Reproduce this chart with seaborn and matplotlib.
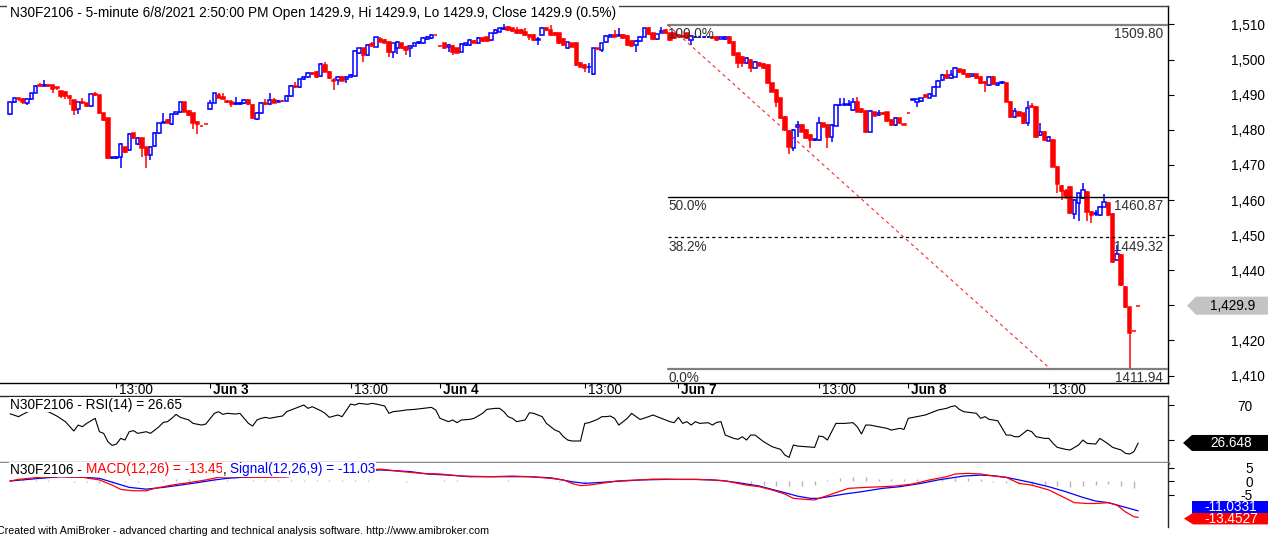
import numpy as np
import pandas as pd
import matplotlib
matplotlib.use("Agg")
import matplotlib.pyplot as plt
import matplotlib.transforms as mtransforms
from matplotlib.patches import Polygon
import seaborn as sns

# ---------------- data (5-minute bars) ----------------
jun02_o = [1484.5,1487.8,1489.0,1488.7,1487.5,1488.7,1490.6,1492.8,1492.6,1492.9,1492.7,1492.2,1491.0,1490.8,1489.6,1488.5,1485.9,1487.8,1487.5,1486.8,1490.1,1489.9,1484.7,1483.3,1471.9,1472.0,1472.2,1475.0,1474.2,1479.0,1476.0,1477.6,1475.0,1472.8,1475.4,1479.0,1482.0,1482.8,1481.6,1484.4,1485.0,1487.8,1485.4,1484.7,1482.3,1481.0,1481.6]
jun02_h = [1488.0,1489.2,1489.2,1489.0,1489.0,1490.6,1492.8,1493.2,1494.2,1493.1,1492.8,1492.3,1491.1,1491.0,1489.8,1488.6,1488.0,1489.0,1487.6,1490.3,1490.9,1490.0,1484.8,1483.4,1472.3,1472.4,1476.2,1475.2,1479.0,1479.1,1478.0,1477.8,1475.1,1475.4,1479.4,1482.0,1484.7,1483.0,1484.6,1485.2,1488.0,1487.9,1485.5,1484.8,1482.4,1481.0,1481.6]
jun02_l = [1484.2,1487.5,1488.3,1487.3,1487.2,1488.5,1490.4,1492.4,1492.5,1492.3,1490.6,1491.3,1489.2,1488.7,1487.1,1484.2,1484.4,1487.3,1486.6,1486.6,1489.6,1484.5,1482.6,1471.7,1471.7,1471.8,1469.0,1473.5,1474.0,1477.4,1475.8,1472.2,1469.0,1471.4,1475.2,1478.8,1481.8,1481.8,1481.4,1484.2,1484.8,1485.0,1484.0,1480.1,1478.8,1481.0,1481.6]
jun02_c = [1487.8,1489.0,1488.7,1488.0,1488.7,1490.4,1492.6,1492.6,1492.9,1492.6,1491.6,1491.8,1489.6,1489.6,1489.2,1485.6,1487.8,1487.5,1486.8,1490.1,1489.8,1484.7,1482.8,1471.9,1472.2,1472.2,1476.0,1473.8,1478.8,1477.6,1477.8,1474.7,1472.8,1475.2,1479.2,1481.8,1482.3,1482.0,1484.4,1485.0,1487.8,1485.2,1484.2,1481.8,1481.6,1481.0,1481.6]

jun03_o = [1485.9,1487.7,1489.9,1489.4,1488.3,1488.0,1487.3,1487.4,1487.5,1488.5,1487.1,1483.0,1484.8,1487.7,1487.3,1488.5,1488.0,1488.3,1488.3,1489.6,1492.5,1492.2,1494.4,1495.0,1496.3,1496.5,1495.3,1498.5,1496.6,1494.2,1494.2,1495.1,1494.4,1495.1,1495.3,1501.8,1503.2,1501.3,1504.4,1503.7,1505.8,1505.5,1505.0,1502.3,1503.2,1504.6,1503.7,1503.2,1504.0,1504.6,1504.6,1505.9,1506.1,1507.0]
jun03_h = [1488.5,1490.6,1490.6,1490.5,1488.5,1488.6,1489.3,1487.8,1488.8,1488.7,1487.3,1485.0,1487.9,1488.9,1490.6,1489.0,1488.5,1488.6,1489.8,1492.7,1493.6,1494.6,1495.3,1496.5,1496.6,1496.7,1498.9,1499.2,1496.8,1494.7,1495.2,1495.3,1495.3,1495.8,1502.7,1503.4,1503.4,1504.4,1505.1,1506.5,1506.5,1506.0,1505.3,1504.8,1505.3,1504.8,1503.9,1504.2,1504.8,1505.3,1506.3,1506.7,1507.2,1507.0]
jun03_l = [1485.7,1487.5,1489.0,1488.7,1487.5,1486.6,1487.0,1487.2,1487.3,1487.2,1483.0,1482.8,1484.6,1487.2,1487.1,1487.5,1487.8,1487.9,1488.1,1489.4,1492.0,1492.0,1494.2,1494.8,1495.5,1494.7,1495.1,1496.4,1494.5,1491.3,1492.8,1493.8,1493.2,1494.9,1495.1,1501.6,1499.3,1501.1,1503.8,1503.5,1504.9,1504.6,1500.8,1500.4,1501.6,1503.0,1501.3,1500.8,1503.8,1504.4,1504.4,1505.7,1505.9,1507.0]
jun03_c = [1487.7,1490.4,1489.2,1488.9,1487.8,1487.3,1487.6,1487.5,1488.6,1487.4,1483.3,1484.8,1487.7,1487.4,1488.5,1487.7,1488.3,1488.1,1489.6,1492.5,1492.2,1494.4,1495.1,1496.3,1495.8,1494.9,1498.7,1496.6,1494.7,1493.8,1495.0,1494.0,1495.1,1495.6,1502.5,1503.2,1501.3,1504.2,1504.0,1506.3,1505.1,1504.8,1502.3,1504.6,1505.1,1503.2,1502.7,1504.0,1504.6,1505.1,1506.1,1506.5,1507.0,1507.0]

jun04_o = [1504.0,1504.6,1503.7,1504.0,1503.2,1502.3,1504.2,1504.2,1505.4,1504.6,1506.1,1506.3,1505.6,1507.5,1508.0,1508.7,1509.4,1508.9,1508.4,1508.4,1508.0,1507.0,1507.0,1505.6,1507.0,1509.1,1508.4,1507.7,1507.5,1506.0,1503.2,1504.6,1504.6,1499.0,1498.5,1497.8,1495.8,1503.2,1502.7,1504.9,1506.5,1507.0,1506.8,1507.0,1506.8,1505.3,1504.2,1505.3,1506.5,1509.1,1507.5,1505.9,1507.7,1508.4,1507.5,1507.5]
jun04_h = [1504.0,1504.8,1504.4,1504.2,1503.4,1504.6,1504.8,1505.8,1505.6,1506.3,1506.3,1506.5,1507.7,1508.6,1509.1,1510.2,1509.6,1509.1,1509.4,1508.6,1508.9,1507.2,1507.2,1506.3,1509.3,1509.3,1509.9,1507.9,1507.7,1506.2,1505.1,1504.8,1504.9,1499.2,1498.7,1499.0,1503.4,1503.4,1504.8,1507.0,1507.2,1508.4,1508.9,1507.2,1507.0,1505.5,1505.5,1506.7,1509.1,1509.3,1507.7,1507.4,1509.4,1508.6,1507.7,1507.7]
jun04_l = [1504.0,1503.0,1502.3,1501.3,1501.8,1502.1,1504.0,1504.0,1504.6,1504.4,1505.1,1505.1,1505.4,1507.3,1507.8,1508.5,1508.2,1508.0,1507.3,1507.3,1506.8,1505.6,1505.4,1504.2,1506.8,1508.2,1506.8,1506.8,1504.4,1504.0,1503.0,1503.5,1498.3,1497.8,1496.5,1496.1,1495.6,1502.8,1502.3,1504.7,1506.3,1506.3,1506.6,1505.9,1504.0,1503.8,1502.1,1505.1,1506.3,1507.0,1505.7,1505.7,1507.5,1507.3,1505.4,1505.9]
jun04_c = [1504.0,1503.2,1504.2,1502.3,1502.0,1504.4,1504.6,1505.6,1504.8,1506.1,1505.3,1505.3,1507.5,1508.4,1508.9,1509.1,1508.4,1508.2,1507.5,1507.5,1507.0,1506.5,1505.6,1506.0,1509.1,1508.4,1507.0,1507.0,1504.6,1504.2,1504.9,1503.7,1498.5,1498.0,1497.5,1498.0,1503.2,1503.0,1504.6,1506.8,1507.0,1506.5,1507.0,1506.1,1504.2,1504.0,1505.3,1506.5,1508.9,1507.2,1505.9,1507.2,1508.2,1507.5,1505.6,1506.1]

jun07_o = [1507.0,1506.8,1507.5,1505.6,1506.3,1506.4,1506.4,1506.4,1506.5,1506.5,1506.0,1505.9,1506.5,1505.1,1501.8,1500.8,1499.0,1500.0,1497.7,1499.0,1498.7,1498.5,1493.2,1491.3,1489.0,1483.7,1479.7,1474.7,1480.9,1481.4,1480.0,1478.5,1477.0,1477.1,1481.8,1481.4,1478.0,1481.2,1487.0,1487.0,1487.1,1485.6,1488.0,1485.9,1485.4,1479.5,1485.0,1484.2,1484.8,1485.0,1482.8,1481.4,1483.3,1481.6]
jun07_h = [1507.2,1507.0,1507.7,1507.0,1506.7,1506.6,1506.6,1506.6,1506.7,1506.7,1506.5,1506.7,1506.7,1505.3,1502.0,1501.0,1500.6,1500.2,1499.6,1499.2,1498.9,1498.7,1493.4,1491.5,1489.2,1483.9,1479.9,1480.1,1482.5,1481.6,1480.2,1478.7,1477.5,1483.7,1482.0,1481.6,1481.6,1487.3,1489.2,1489.2,1488.4,1489.0,1489.4,1486.1,1485.6,1485.6,1485.2,1485.6,1485.0,1485.2,1483.0,1483.7,1483.5,1481.7]
jun07_l = [1506.5,1506.3,1505.9,1504.2,1506.1,1506.2,1506.2,1506.2,1505.9,1505.4,1505.8,1505.7,1504.4,1501.1,1497.5,1497.8,1498.8,1496.5,1497.5,1498.1,1497.3,1493.0,1490.7,1486.6,1483.1,1479.7,1473.0,1474.0,1478.0,1479.3,1477.4,1474.7,1476.8,1476.9,1480.7,1474.9,1476.4,1481.0,1486.8,1486.8,1486.9,1485.4,1485.0,1484.8,1479.1,1479.3,1483.8,1484.0,1484.3,1482.3,1481.2,1481.2,1481.6,1481.3]
jun07_c = [1506.8,1506.5,1506.1,1506.8,1506.5,1506.5,1506.5,1506.5,1506.1,1505.6,1506.3,1506.5,1504.6,1501.3,1499.0,1499.0,1500.4,1497.5,1499.4,1498.3,1497.5,1493.2,1490.9,1488.0,1483.3,1479.9,1475.2,1479.9,1481.4,1479.5,1477.6,1477.1,1477.3,1481.8,1480.9,1478.0,1481.4,1487.1,1487.2,1487.3,1487.4,1487.8,1485.2,1485.0,1479.3,1485.4,1484.0,1484.7,1484.5,1482.5,1481.4,1483.5,1481.8,1481.4]

jun08_o = [1484.7,1488.6,1488.0,1488.2,1489.9,1489.2,1489.7,1492.3,1494.2,1495.6,1494.7,1495.1,1497.2,1497.0,1496.0,1495.3,1495.8,1495.0,1493.7,1492.8,1495.1,1492.8,1493.2,1493.4,1488.0,1483.7,1485.2,1484.7,1481.8,1486.8,1486.6,1478.5,1479.5,1476.9,1477.1,1469.5,1464.0,1462.7,1463.8,1456.0,1459.1,1460.5,1462.4,1456.7,1455.9,1455.7,1458.1,1459.1,1456.0,1443.0,1444.3,1435.3,1429.4,1422.8,1429.9]
jun08_h = [1484.7,1488.7,1488.9,1489.2,1490.1,1490.4,1492.5,1494.1,1495.8,1497.0,1497.0,1497.9,1497.4,1497.2,1496.2,1496.0,1496.0,1495.2,1493.9,1495.3,1495.3,1493.6,1493.8,1493.6,1488.2,1486.1,1485.4,1484.9,1488.3,1487.5,1486.8,1481.8,1479.7,1478.1,1477.3,1469.7,1464.2,1463.0,1464.0,1460.2,1462.1,1464.8,1462.6,1456.9,1457.2,1458.3,1461.8,1459.3,1456.2,1447.2,1444.5,1435.5,1429.6,1422.8,1429.9]
jun08_l = [1484.7,1488.6,1486.5,1488.0,1489.2,1489.0,1489.5,1492.1,1494.0,1494.5,1494.5,1494.9,1496.3,1495.7,1494.9,1495.1,1494.5,1493.0,1490.9,1492.6,1492.8,1492.6,1493.0,1487.8,1483.5,1483.5,1483.8,1481.6,1481.0,1486.2,1477.8,1478.3,1476.7,1476.7,1469.3,1462.0,1460.0,1460.2,1456.0,1454.5,1454.0,1460.3,1454.0,1453.4,1455.5,1455.5,1457.9,1455.5,1442.0,1442.8,1435.6,1429.2,1411.94,1422.8,1429.9]
jun08_c = [1484.7,1488.7,1488.7,1489.0,1489.4,1490.2,1492.3,1493.9,1495.6,1494.7,1495.6,1497.7,1496.5,1495.9,1495.1,1495.8,1494.7,1493.2,1493.2,1495.1,1493.0,1493.4,1493.5,1488.0,1483.7,1485.4,1484.0,1481.8,1486.3,1486.4,1478.0,1479.5,1477.1,1477.9,1469.5,1464.6,1462.7,1461.0,1456.2,1460.0,1461.9,1462.9,1456.7,1455.7,1456.4,1458.1,1459.3,1455.7,1442.4,1444.6,1435.8,1429.4,1422.2,1422.8,1429.9]

# date axis (bar numbers where the label sits)
date_tick_bars = [25, 47, 80, 101, 135, 157, 190, 211, 244]
date_tick_labels = ["13:00", "Jun 3", "13:00", "Jun 4", "13:00", "Jun 7", "13:00", "Jun 8", "13:00"]
price_ticks = [1410, 1420, 1430, 1440, 1450, 1460, 1470, 1480, 1490, 1500, 1510]

# Fibonacci retracement drawn on the chart
fib_high, fib_low = 1509.80, 1411.94
fib_start_bar, fib_end_bar = 154.6, 244.3
fib_ratios = [1.0, 0.5, 0.382, 0.0]
fib_names = ["100.0%", "50.0%", "38.2%", "0.0%"]

# RSI(14)
rsi_bar = [0,2,3,5,7,9,11,13,15,16,17,18,20,21,22,23,24,25,26,27,28,29,30,32,33,35,36,37,38,39,40,42,43,45,46,48,49,50,51,53,54,56,57,58,59,60,61,63,64,65,67,69,70,71,73,74,75,77,78,80,81,82,84,85,86,88,89,90,92,93,95,97,99,100,101,103,104,105,106,108,109,111,112,114,115,116,117,118,119,121,122,123,125,126,128,129,130,131,132,134,135,136,138,139,140,141,142,143,145,146,148,150,151,153,155,156,157,158,159,160,161,162,164,165,166,167,168,170,171,172,173,174,175,177,179,181,182,183,184,185,187,189,190,191,192,194,196,198,199,200,201,202,204,206,207,209,210,211,213,215,216,217,218,220,221,222,223,224,226,227,228,229,230,231,232,234,235,236,237,239,240,241,243,244,245,246,248,249,251,252,253,255,256,258,259,261,262,263,264,265]
rsi_val = [60.0,56.7,59.3,64.3,63.1,62.4,57.4,51.0,40.3,47.1,45.2,49.0,54.8,39.5,37.6,28.1,23.9,25.4,31.9,30.0,39.5,40.7,37.6,39.5,37.6,45.2,50.2,51.0,54.8,59.3,55.9,52.9,49.0,47.1,48.3,60.5,62.4,59.3,60.5,59.7,60.5,49.0,46.0,52.9,54.8,55.9,54.8,56.7,57.4,62.4,66.2,70.0,66.2,68.1,63.5,60.5,55.9,58.6,56.7,71.1,70.0,71.9,70.8,71.9,71.1,68.9,60.5,62.4,63.5,64.3,65.0,66.2,67.3,64.3,54.8,51.0,52.9,49.8,52.9,53.6,54.8,60.5,65.0,66.2,66.2,62.4,56.7,54.8,51.0,52.9,61.2,60.5,56.7,49.0,41.4,39.5,33.8,30.0,28.9,28.9,49.0,49.8,53.6,56.7,56.7,57.4,54.8,47.1,54.8,60.5,53.5,56.7,58.6,54.8,51.0,49.8,55.9,49.0,51.0,47.1,51.0,49.0,49.8,47.1,50.2,51.0,35.7,31.9,30.8,33.8,30.0,35.7,35.7,28.1,22.4,19.3,12.9,10.2,24.3,23.1,22.4,21.6,34.6,33.8,30.0,49.0,49.0,49.8,45.2,36.9,47.1,47.1,45.2,43.3,41.4,43.3,42.2,54.8,56.7,58.6,60.5,62.4,64.3,66.2,68.1,69.2,65.0,62.4,61.2,60.5,54.8,56.7,53.6,52.9,52.1,35.7,35.7,33.8,33.8,41.4,39.5,33.8,31.9,31.9,26.2,21.6,19.3,18.6,24.3,30.0,26.2,25.4,31.9,25.4,21.6,18.6,14.8,14.0,16.7,26.65]

# MACD(12,26) and Signal(12,26,9)
macd_bar = [0,2,7,12,17,21,24,26,29,32,34,38,42,46,49,53,57,61,65,72,80,87,92,97,101,106,113,118,122,127,130,132,134,136,140,143,148,151,154,157,161,165,168,171,173,176,179,182,184,187,189,190,192,194,197,201,205,208,212,216,220,222,225,228,231,234,237,240,244,248,250,253,255,258,260,262,264,265]
macd_val = [0.0,0.6,1.4,1.6,1.4,0.4,-1.5,-3.1,-3.6,-3.6,-2.7,-1.5,-0.6,0.4,1.4,1.6,1.4,1.4,1.6,2.5,3.8,4.4,3.5,2.8,2.6,1.85,1.6,1.85,1.6,1.0,0.4,-0.9,-1.7,-1.5,-0.6,0.1,0.4,0.7,0.7,0.6,0.6,0.4,0.1,-0.9,-1.5,-2.1,-3.3,-4.8,-6.4,-6.8,-7.0,-6.4,-5.4,-4.3,-2.7,-2.35,-2.1,-1.85,-1.1,0.4,1.6,2.6,2.84,2.6,1.85,1.36,-0.86,-1.5,-3.3,-6.4,-8.0,-8.3,-8.3,-8.0,-8.9,-11.4,-13.2,-13.45]
signal_bar = [0,7,12,17,21,25,28,32,36,40,44,48,51,55,65,75,87,94,98,103,108,113,122,127,132,135,138,141,145,148,154,161,165,168,171,173,176,179,182,185,188,190,193,196,200,205,209,214,218,222,224,228,231,234,237,240,244,248,252,255,258,261,265]
signal_val = [0.0,1.0,1.6,1.4,1.0,-0.9,-2.35,-3.0,-2.35,-1.5,-0.6,0.4,1.0,1.4,1.6,2.8,4.1,3.5,2.6,2.2,1.6,1.6,1.6,1.2,-0.25,-0.86,-0.6,-0.25,0.1,0.4,0.6,0.6,0.4,0.0,-0.6,-1.1,-1.85,-3.1,-4.3,-5.6,-6.4,-6.4,-5.6,-4.8,-3.95,-2.7,-2.1,-0.86,0.4,1.36,1.85,2.2,1.97,1.36,0.4,-0.6,-2.1,-3.95,-6.05,-7.4,-8.0,-9.3,-11.03]
hist_bar = list(range(0, 265, 3))
hist_val = [0.2,0.3,0.3,0.2,0.1,-0.3,-0.5,-0.6,-0.6,-0.4,-0.2,0.2,0.5,0.6,0.6,0.5,0.4,0.2,0.1,0.3,0.3,0.3,0.4,0.4,0.3,0.3,0.3,0.3,0.3,0.1,-0.1,-0.2,-0.1,0.0,0.2,0.2,0.1,0.1,0.1,0.2,0.1,0.1,0.0,-0.3,-0.6,-0.6,-0.4,-0.2,0.0,0.1,0.1,0.1,0.1,0.1,0.1,0.1,0.0,-0.6,-1.0,-1.4,-1.8,-2.0,-2.0,-1.5,0.5,1.2,1.6,1.4,0.8,0.6,0.6,0.7,0.8,1.0,1.1,1.0,0.6,-0.2,-0.8,-1.2,-1.3,-1.5,-1.8,-2.2,-2.0,-1.4,-1.2,-2.0,-2.5]

title_text = "N30F2106 - 5-minute 6/8/2021 2:50:00 PM Open 1429.9, Hi 1429.9, Lo 1429.9, Close 1429.9 (0.5%)"
rsi_title = "N30F2106 - RSI(14) = 26.65"
footer = "Created with AmiBroker - advanced charting and technical analysis software. http://www.amibroker.com"
last_close, last_rsi, last_macd, last_signal = 1429.9, 26.648, -13.4527, -11.0331

# ---------------- styling ----------------
sns.set_theme(style="white")
plt.rcParams['font.family'] = ['Liberation Sans', 'DejaVu Sans']
plt.rcParams['axes.linewidth'] = 1.0

BLUE, RED = "#0000ff", "#ff0000"
W, H = 1270, 538
FS = 9.8


def px_rect(l, t, r, b):
    return [l / W, 1 - b / H, (r - l) / W, (b - t) / H]


df = pd.DataFrame({
    "open": jun02_o + jun03_o + jun04_o + jun07_o + jun08_o,
    "high": jun02_h + jun03_h + jun04_h + jun07_h + jun08_h,
    "low": jun02_l + jun03_l + jun04_l + jun07_l + jun08_l,
    "close": jun02_c + jun03_c + jun04_c + jun07_c + jun08_c,
})
df["bar"] = np.arange(len(df))
df["up"] = df["close"] > df["open"]
df["body_lo"] = df[["open", "close"]].min(axis=1)
df["body_h"] = (df["close"] - df["open"]).abs()

XL = (-2.35, 272.0)

fig = plt.figure(figsize=(W / 100, H / 100), dpi=100)
fig.patch.set_facecolor("white")

# ---------------- price panel ----------------
ax = fig.add_axes(px_rect(0, 6, 1168, 382.7))
up = df[df["up"]]
dn = df[~df["up"]]
ax.vlines(up["bar"], up["low"], up["high"], color=BLUE, lw=1.1, zorder=2)
ax.vlines(dn["bar"], dn["low"], dn["high"], color=RED, lw=1.1, zorder=2)
ax.bar(up["bar"], up["body_h"], bottom=up["body_lo"], width=0.8,
       facecolor="white", edgecolor=BLUE, linewidth=1.1, zorder=3)
ax.bar(dn["bar"], dn["body_h"], bottom=dn["body_lo"], width=0.8,
       facecolor=RED, edgecolor=RED, linewidth=1.1, zorder=3)

ax.set_xlim(*XL)
ax.set_ylim(1407.95, 1515.27)

# fibonacci
frac0 = (fib_start_bar - XL[0]) / (XL[1] - XL[0])
blend = mtransforms.blended_transform_factory(ax.transAxes, ax.transData)
for r, name in zip(fib_ratios, fib_names):
    lvl = fib_low + r * (fib_high - fib_low)
    if r in (1.0, 0.0):
        ax.axhline(lvl, xmin=frac0, xmax=1, color="#808080", lw=1.6, zorder=4)
    elif r == 0.5:
        ax.axhline(lvl, xmin=frac0, xmax=1, color="black", lw=1.0, zorder=4)
    else:
        ax.axhline(lvl, xmin=frac0, xmax=1, color="black", lw=0.9,
                   ls=(0, (2.5, 2.5)), zorder=4)
    ax.annotate(name, xy=(fib_start_bar, lvl), xytext=(0, -1.5),
                textcoords="offset points", ha="left", va="top",
                fontsize=FS, color="#303030", zorder=5)
    ax.annotate(f"{lvl:.2f}", xy=(0.996, lvl), xycoords=blend, xytext=(0, -1.5),
                textcoords="offset points", ha="right", va="top",
                fontsize=FS, color="#303030", zorder=5)
ax.plot([fib_start_bar, fib_end_bar], [fib_high, fib_low], color=RED,
        lw=0.8, ls=(0, (3, 3)), alpha=0.85, zorder=4)

ax.spines["left"].set_visible(False)
ax.spines["top"].set_color("#404040")
ax.spines["bottom"].set_color("black")
ax.spines["right"].set_color("black")
ax.yaxis.tick_right()
ax.set_yticks(price_ticks)
# the 1,430 label sits under the last-price flag in the reference
ax.set_yticklabels(["" if v == 1430 else f"{v:,.0f}" for v in price_ticks], ha="right")
ax.tick_params(axis="y", direction="out", length=4, width=0.8, pad=66,
               labelsize=FS, colors="black")
ax.set_xticks(date_tick_bars)
ax.set_xticklabels(date_tick_labels, ha="left")
ax.tick_params(axis="x", direction="out", length=3.5, width=0.8, pad=-3.5,
               labelsize=FS, colors="black", bottom=True)
shift = mtransforms.ScaledTranslation(3 / 100, 0, fig.dpi_scale_trans)
for lbl, txt in zip(ax.get_xticklabels(), date_tick_labels):
    lbl.set_transform(lbl.get_transform() + shift)
    if txt.startswith("Jun"):
        lbl.set_fontweight("bold")
ax.set_xlabel("")
ax.set_ylabel("")

# ---------------- RSI panel ----------------
axr = fig.add_axes(px_rect(0, 396, 1168, 462.7))
sns.lineplot(x=rsi_bar, y=rsi_val, ax=axr, color="black", linewidth=0.8,
             estimator=None, sort=False)
axr.set_xlim(*XL)
axr.set_ylim(4.1, 80.3)
axr.set_xticks([])
axr.spines["left"].set_visible(False)
axr.spines["bottom"].set_color("#8c8c8c")
axr.spines["bottom"].set_linewidth(2.5)
axr.yaxis.tick_right()
axr.set_yticks([30, 70])
axr.set_yticklabels(["30", "70"], ha="right")
axr.tick_params(axis="y", direction="out", length=4, width=0.8, pad=57,
                labelsize=FS, colors="black")

# ---------------- MACD panel ----------------
axm = fig.add_axes(px_rect(0, 462.7, 1168, 527))
axm.vlines(hist_bar, 0, hist_val, color="#b4b4b4", lw=1.0, zorder=1)
sns.lineplot(x=signal_bar, y=signal_val, ax=axm, color=BLUE, linewidth=0.9,
             estimator=None, sort=False, zorder=3)
sns.lineplot(x=macd_bar, y=macd_val, ax=axm, color=RED, linewidth=0.9,
             estimator=None, sort=False, zorder=3)
axm.set_xlim(*XL)
axm.set_ylim(-17.0, 6.78)
axm.set_xticks([])
axm.spines["left"].set_visible(False)
axm.spines["bottom"].set_visible(False)
axm.spines["top"].set_visible(False)
axm.yaxis.tick_right()
axm.set_yticks([-5, 0, 5])
axm.set_yticklabels(["-5", "0", "5"], ha="right")
axm.tick_params(axis="y", direction="out", length=4, width=0.8, pad=57,
                labelsize=FS, colors="black")
for a in (axr, axm):
    a.set_xlabel("")
    a.set_ylabel("")


# ---------------- value flags on the right ----------------
def flag_axes(panel, t, b):
    fa = fig.add_axes(px_rect(1168, t, 1270, b))
    fa.set_xlim(0, 102)
    fa.set_ylim(panel.get_ylim())
    fa.axis("off")
    return fa


def flag(fa, yc, half_h, text, face, tcolor, tip=True, tip_x=19, left=28, right=100):
    pts = [(left, yc + half_h), (right, yc + half_h), (right, yc - half_h), (left, yc - half_h)]
    if tip:
        pts.append((tip_x, yc))
    fa.add_patch(Polygon(pts, closed=True, facecolor=face, edgecolor="none",
                         clip_on=False, zorder=5))
    fa.text((left + right) / 2 + 1, yc, text, ha="center", va="center",
            fontsize=FS, color=tcolor, zorder=6, clip_on=False)


fp = flag_axes(ax, 6, 382.7)
flag(fp, last_close, 9 / 3.51, f"{last_close:,.1f}", "#c3c3c3", "black",
     tip_x=19, left=28, right=100)

fr = flag_axes(axr, 396, 462.7)
flag(fr, last_rsi, 8 / 0.875, f"{last_rsi:.3f}", "black", "white",
     tip_x=15, left=24, right=100)

fm = flag_axes(axm, 462.7, 527)
hh = 5.8 / 2.7
red_center = last_macd - 1.2 / 2.7
flag(fm, red_center, hh, f"{last_macd:.4f}", RED, "white",
     tip_x=16, left=25, right=100)
flag(fm, red_center + 2 * hh, hh, f"{last_signal:.4f}", BLUE, "white",
     tip=False, left=24, right=100)

# ---------------- titles / texts ----------------
fig.text(10 / W, 1 - 13.5 / H, title_text, fontsize=FS, va="center", ha="left",
         color="black", bbox=dict(facecolor="white", edgecolor="none", pad=2.0))
fig.text(10 / W, 1 - 404.5 / H, rsi_title, fontsize=FS, va="center", ha="left",
         color="black", bbox=dict(facecolor="white", edgecolor="none", pad=0.5))

parts = [("N30F2106 - ", "black"), (f"MACD(12,26) = {last_macd:.2f}", RED),
         (", ", "black"), (f"Signal(12,26,9) = {last_signal:.2f}", BLUE)]
nb = dict(facecolor="white", edgecolor="none", pad=0.5)
prev = fig.text(10 / W, 1 - 476.5 / H, parts[0][0], fontsize=FS, va="bottom",
                ha="left", color=parts[0][1], bbox=nb)
for txt, col in parts[1:]:
    prev = axm.annotate(txt, xy=(1, 0), xycoords=prev, ha="left", va="bottom",
                        fontsize=FS, color=col, bbox=nb, annotation_clip=False)

fig.text(-3 / W, 1 - 530.5 / H, footer, fontsize=7.7, va="center", ha="left",
         color="black")

fig.savefig("out.png", dpi=100, facecolor="white")
